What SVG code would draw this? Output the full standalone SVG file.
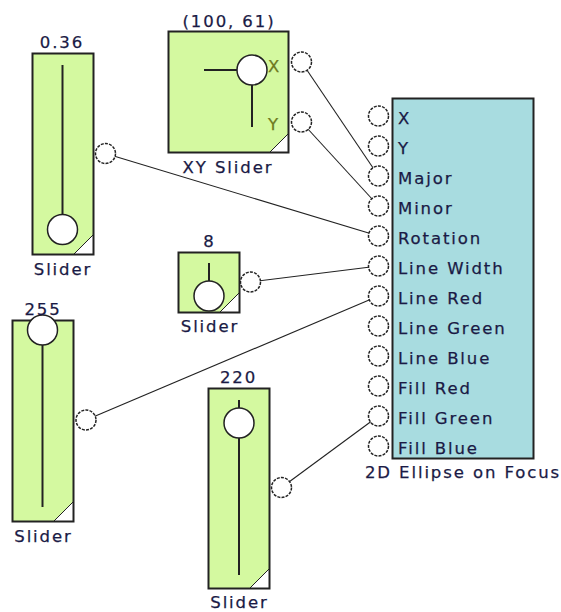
<svg xmlns="http://www.w3.org/2000/svg" width="561" height="612" viewBox="0 0 561 612">
<style>
text{font-family:"DejaVu Sans","Verdana",sans-serif;font-size:16.5px;letter-spacing:1.9px;fill:#1a1a45;stroke:#1a1a45;stroke-width:0.25}
.c{text-anchor:middle}
.xy{fill:#6e7a1e;stroke:#6e7a1e}
.body{fill:#d4f9a0;stroke:#222;stroke-width:2}
.ell{fill:#a8dce0;stroke:#222;stroke-width:2}
.trk{stroke:#222;stroke-width:2;fill:none}
.knob{fill:#fff;stroke:#222;stroke-width:1.5}
.tri{fill:#fff;stroke:#222;stroke-width:1}
.port{fill:#fff;stroke:#222;stroke-width:1.5;stroke-dasharray:3 1.2}
.wire{stroke:#222;stroke-width:1.1;fill:none}
</style>
<rect width="561" height="612" fill="#fff"/>
<g id="connectors">
<line class="wire" x1="301.5" y1="62" x2="378.5" y2="176"/>
<line class="wire" x1="301.5" y1="122" x2="378.5" y2="206"/>
<line class="wire" x1="105.5" y1="153.5" x2="378.5" y2="236"/>
<line class="wire" x1="250.5" y1="282" x2="378.5" y2="266"/>
<line class="wire" x1="86" y1="420" x2="378.5" y2="296"/>
<line class="wire" x1="281.5" y1="487.5" x2="378.5" y2="416"/>
</g>
<g id="slider1">
<rect class="body" x="32.5" y="53.5" width="61" height="201"/>
<polygon class="tri" points="74,254 93,235 93,254"/>
<line class="trk" x1="62.5" y1="65" x2="62.5" y2="215"/>
<circle class="knob" cx="62.5" cy="229.5" r="15"/>
<text class="c" x="62" y="48">0.36</text>
<text class="c" x="63" y="275">Slider</text>
<circle class="port" cx="105.5" cy="153.5" r="10"/>
</g>
<g id="xyslider">
<rect class="body" x="168.5" y="31.5" width="120" height="121"/>
<polygon class="tri" points="270,152 288,134 288,152"/>
<line class="trk" x1="204" y1="70" x2="237" y2="70"/>
<line class="trk" x1="252" y1="85" x2="252" y2="127"/>
<circle class="knob" cx="252" cy="70" r="15"/>
<text class="xy" x="268" y="71.5" style="letter-spacing:0">X</text>
<text class="xy" x="268" y="130" style="letter-spacing:0">Y</text>
<text class="c" x="229" y="26.5">(100, 61)</text>
<text class="c" x="228" y="173">XY Slider</text>
<circle class="port" cx="301.5" cy="62" r="10"/>
<circle class="port" cx="301.5" cy="122" r="10"/>
</g>
<g id="slider8">
<rect class="body" x="178.5" y="252.5" width="61" height="60"/>
<polygon class="tri" points="220,312 239,293 239,312"/>
<line class="trk" x1="209" y1="263" x2="209" y2="281"/>
<circle class="knob" cx="209" cy="296" r="15"/>
<text class="c" x="209.5" y="246.5">8</text>
<text class="c" x="210" y="331.5">Slider</text>
<circle class="port" cx="250.5" cy="282" r="10"/>
</g>
<g id="slider255">
<rect class="body" x="12.5" y="320.5" width="61" height="201"/>
<polygon class="tri" points="54,521 73,502 73,521"/>
<line class="trk" x1="42.5" y1="345" x2="42.5" y2="507"/>
<circle class="knob" cx="42.5" cy="330" r="15"/>
<text class="c" x="43" y="315">255</text>
<text class="c" x="43.5" y="541.5">Slider</text>
<circle class="port" cx="86" cy="420" r="10"/>
</g>
<g id="slider220">
<rect class="body" x="208.5" y="388.5" width="61" height="200"/>
<polygon class="tri" points="250,588 269,569 269,588"/>
<line class="trk" x1="239" y1="400" x2="239" y2="575"/>
<circle class="knob" cx="239" cy="423" r="15"/>
<text class="c" x="238.5" y="383">220</text>
<text class="c" x="239.5" y="608">Slider</text>
<circle class="port" cx="281.5" cy="487.5" r="10"/>
</g>
<g id="ellipse">
<rect class="ell" x="392.5" y="98.5" width="141" height="360"/>
<g>
<circle class="port" cx="378.5" cy="116" r="10"/>
<circle class="port" cx="378.5" cy="146" r="10"/>
<circle class="port" cx="378.5" cy="176" r="10"/>
<circle class="port" cx="378.5" cy="206" r="10"/>
<circle class="port" cx="378.5" cy="236" r="10"/>
<circle class="port" cx="378.5" cy="266" r="10"/>
<circle class="port" cx="378.5" cy="296" r="10"/>
<circle class="port" cx="378.5" cy="326" r="10"/>
<circle class="port" cx="378.5" cy="356" r="10"/>
<circle class="port" cx="378.5" cy="386" r="10"/>
<circle class="port" cx="378.5" cy="416" r="10"/>
<circle class="port" cx="378.5" cy="446" r="10"/>
</g>
<text x="398" y="123.5">X</text>
<text x="398" y="153.5">Y</text>
<text x="398" y="183.5">Major</text>
<text x="398" y="213.5">Minor</text>
<text x="398" y="243.5">Rotation</text>
<text x="398" y="273.5">Line Width</text>
<text x="398" y="303.5">Line Red</text>
<text x="398" y="333.5">Line Green</text>
<text x="398" y="363.5">Line Blue</text>
<text x="398" y="393.5">Fill Red</text>
<text x="398" y="423.5">Fill Green</text>
<text x="398" y="453.5">Fill Blue</text>
<text class="c" x="463" y="478">2D Ellipse on Focus</text>
</g>
</svg>
